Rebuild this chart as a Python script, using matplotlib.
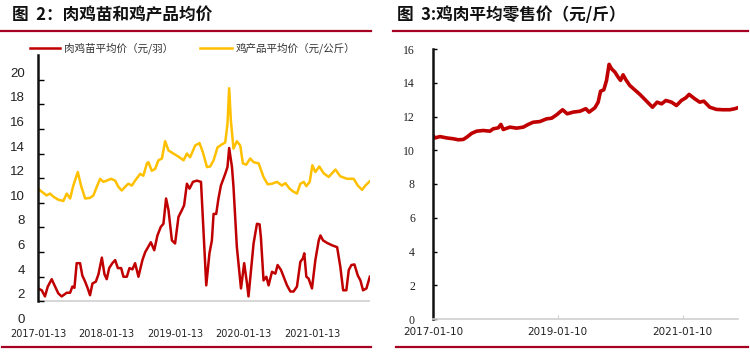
import numpy as np
import pandas as pd
import matplotlib
matplotlib.use("Agg")
import matplotlib.pyplot as plt
import matplotlib.transforms as mtransforms
from matplotlib.lines import Line2D

plt.rcParams['font.family'] = ['Noto Sans CJK SC', 'DejaVu Sans']

# 图2 肉鸡苗平均价（元/羽）
chick_dates = [
    "2017-01-13", "2017-02-02", "2017-02-19", "2017-03-06", "2017-03-27", "2017-04-14",
    "2017-05-01", "2017-05-19", "2017-06-15", "2017-07-03", "2017-07-15", "2017-07-26",
    "2017-08-07", "2017-08-25", "2017-09-06", "2017-09-21", "2017-10-05", "2017-10-17",
    "2017-10-30", "2017-11-17", "2017-12-01", "2017-12-19", "2018-01-02", "2018-01-14",
    "2018-01-27", "2018-02-13", "2018-02-28", "2018-03-14", "2018-04-01", "2018-04-13",
    "2018-05-01", "2018-05-15", "2018-05-31", "2018-06-14", "2018-07-02", "2018-07-23",
    "2018-08-07", "2018-09-06", "2018-09-24", "2018-10-11", "2018-10-29", "2018-11-12",
    "2018-11-26", "2018-12-09", "2018-12-27", "2019-01-13", "2019-01-31", "2019-02-18",
    "2019-03-02", "2019-03-17", "2019-03-31", "2019-04-18", "2019-05-09", "2019-05-31",
    "2019-06-13", "2019-06-28", "2019-07-15", "2019-07-28", "2019-08-06", "2019-08-20",
    "2019-09-01", "2019-09-14", "2019-10-07", "2019-10-19", "2019-10-28", "2019-11-12",
    "2019-11-20", "2019-12-08", "2019-12-30", "2020-01-16", "2020-01-31", "2020-02-08",
    "2020-03-06", "2020-03-24", "2020-04-07", "2020-04-14", "2020-04-28", "2020-05-13",
    "2020-05-25", "2020-06-12", "2020-06-30", "2020-07-12", "2020-07-30", "2020-08-13",
    "2020-08-31", "2020-09-18", "2020-10-05", "2020-10-23", "2020-11-10", "2020-11-24",
    "2020-12-01", "2020-12-12", "2020-12-24", "2021-01-11", "2021-01-29", "2021-02-16",
    "2021-02-25", "2021-03-11", "2021-04-01", "2021-04-28", "2021-05-25", "2021-06-11",
    "2021-06-26", "2021-07-13", "2021-07-26", "2021-08-09", "2021-08-25", "2021-09-12",
    "2021-09-26", "2021-10-10", "2021-10-28", "2021-11-15",
]
chick_price = [
    3.05, 2.9, 2.4, 3.2, 3.8, 3.2,
    2.65, 2.4, 2.7, 2.7, 3.2, 3.1,
    5.1, 5.1, 4.1, 3.6, 3.05, 2.5,
    3.45, 3.6, 4.2, 5.55, 4.2, 3.8,
    4.7, 5.1, 5.35, 4.7, 4.7, 4.0,
    4.0, 4.7, 4.6, 5.1, 4.0, 5.35,
    6.0, 6.8, 6.15, 7.35, 8.05, 8.3,
    10.35, 9.4, 6.95, 6.7, 8.85, 9.4,
    9.8, 11.55, 11.15, 11.7, 11.8, 11.7,
    7.8, 3.3, 5.9, 6.95, 9.1, 9.1,
    10.35, 11.4, 12.35, 12.9, 14.45, 12.9,
    11.3, 6.4, 3.05, 5.1, 3.45, 2.4,
    6.7, 8.3, 8.25, 7.2, 3.7, 4.0,
    3.3, 4.4, 4.25, 4.95, 4.55, 4.0,
    3.3, 2.8, 2.8, 3.2, 5.2, 5.5,
    5.9, 4.0, 3.85, 3.05, 5.35, 6.95,
    7.35, 6.95, 6.75, 6.55, 6.4, 4.8,
    2.9, 2.9, 4.55, 4.95, 5.0, 4.1,
    3.7, 2.9, 3.05, 4.0,
]

# 图2 鸡产品平均价（元/公斤）
product_dates = [
    "2017-01-13", "2017-02-02", "2017-02-28", "2017-03-18", "2017-04-05", "2017-05-01",
    "2017-05-28", "2017-06-15", "2017-07-03", "2017-07-20", "2017-08-13", "2017-08-30",
    "2017-09-21", "2017-10-17", "2017-11-04", "2017-11-22", "2017-12-10", "2017-12-27",
    "2018-01-14", "2018-02-06", "2018-02-28", "2018-03-17", "2018-04-04", "2018-04-22",
    "2018-05-09", "2018-05-28", "2018-06-14", "2018-07-11", "2018-07-28", "2018-08-16",
    "2018-08-24", "2018-09-11", "2018-09-29", "2018-10-16", "2018-11-04", "2018-11-21",
    "2018-12-09", "2019-01-04", "2019-01-31", "2019-02-27", "2019-03-17", "2019-04-03",
    "2019-04-30", "2019-05-23", "2019-06-10", "2019-07-02", "2019-07-19", "2019-08-06",
    "2019-08-27", "2019-09-20", "2019-10-07", "2019-10-19", "2019-10-28", "2019-11-06",
    "2019-11-20", "2019-12-08", "2019-12-26", "2020-01-09", "2020-01-27", "2020-02-17",
    "2020-03-06", "2020-04-02", "2020-04-28", "2020-05-20", "2020-06-12", "2020-07-09",
    "2020-08-04", "2020-08-22", "2020-09-14", "2020-10-05", "2020-10-23", "2020-11-10",
    "2020-11-28", "2020-12-12", "2020-12-30", "2021-01-13", "2021-01-29", "2021-02-19",
    "2021-03-14", "2021-04-10", "2021-05-16", "2021-06-11", "2021-07-17", "2021-08-21",
    "2021-09-12", "2021-10-05", "2021-10-22", "2021-11-15",
]
product_price = [
    11.15, 10.9, 10.6, 10.75, 10.5, 10.25,
    10.15, 10.75, 10.35, 11.4, 12.5, 11.4,
    10.35, 10.4, 10.6, 11.3, 11.95, 11.7,
    11.8, 11.95, 11.8, 11.3, 11.0, 11.3,
    11.55, 11.4, 11.8, 12.35, 12.2, 13.2,
    13.3, 12.6, 12.75, 13.45, 13.6, 15.0,
    14.25, 14.0, 13.75, 13.45, 14.0, 13.7,
    14.65, 14.85, 14.1, 12.9, 12.95, 13.45,
    14.5, 14.75, 14.9, 16.4, 19.3, 16.7,
    14.4, 15.0, 14.65, 13.2, 13.1, 13.6,
    13.3, 13.2, 12.1, 11.5, 11.55, 11.7,
    11.4, 11.6, 11.15, 10.9, 10.75, 11.55,
    11.7, 11.35, 11.7, 13.05, 12.5, 12.95,
    12.4, 12.1, 12.7, 12.15, 11.95, 11.95,
    11.4, 11.05, 11.4, 11.75,
]

# 图3 鸡肉平均零售价（元/斤）
retail_dates = [
    "2017-01-10", "2017-01-22", "2017-02-20", "2017-03-31", "2017-05-09", "2017-06-07",
    "2017-07-06", "2017-07-26", "2017-08-24", "2017-09-22", "2017-10-31", "2017-12-09",
    "2017-12-28", "2018-01-27", "2018-02-11", "2018-02-25", "2018-04-05", "2018-05-14",
    "2018-06-22", "2018-07-21", "2018-08-19", "2018-09-27", "2018-11-05", "2018-12-05",
    "2019-01-03", "2019-02-07", "2019-03-06", "2019-04-10", "2019-05-19", "2019-06-23",
    "2019-07-12", "2019-08-15", "2019-09-03", "2019-09-17", "2019-10-06", "2019-10-22",
    "2019-11-06", "2019-11-20", "2019-12-10", "2019-12-29", "2020-01-12", "2020-01-27",
    "2020-02-12", "2020-03-06", "2020-04-04", "2020-05-04", "2020-06-12", "2020-07-17",
    "2020-08-13", "2020-09-08", "2020-10-03", "2020-11-05", "2020-12-04", "2021-01-02",
    "2021-01-28", "2021-02-16", "2021-03-21", "2021-04-19", "2021-05-13", "2021-06-17",
    "2021-07-26", "2021-09-03", "2021-10-12", "2021-11-10", "2021-11-29",
]
retail_price = [
    10.87, 10.73, 10.81, 10.73, 10.68, 10.62,
    10.64, 10.77, 11.0, 11.13, 11.17, 11.13,
    11.27, 11.33, 11.53, 11.23, 11.37, 11.31,
    11.37, 11.53, 11.66, 11.7, 11.86, 11.9,
    12.1, 12.4, 12.16, 12.26, 12.31, 12.46,
    12.26, 12.52, 12.85, 13.5, 13.58, 14.14,
    15.09, 14.83, 14.63, 14.33, 14.14, 14.47,
    14.18, 13.84, 13.58, 13.31, 12.91, 12.55,
    12.85, 12.75, 12.95, 12.85, 12.65, 12.95,
    13.11, 13.31, 13.05, 12.85, 12.91, 12.55,
    12.42, 12.4, 12.4, 12.46, 12.52,
]

left_xticks = ["2017-01-13", "2018-01-13", "2019-01-13", "2020-01-13", "2021-01-13"]
left_yticks = list(range(0, 21, 2))
right_xticks = ["2017-01-10", "2019-01-10", "2021-01-10"]
right_yticks = list(range(0, 17, 2))
legend_labels = ["肉鸡苗平均价（元/羽）", "鸡产品平均价（元/公斤）"]

RED = "#C00000"
YELLOW = "#FFC000"
LINE_RED = "#A50021"

fig = plt.figure(figsize=(7.5, 3.55), dpi=100)

# 标题和分隔线
fig.text(12/750, 1 - 15/355, "图  2：肉鸡苗和鸡产品均价", fontsize=12, fontweight="bold",
         va="center", ha="left", color="#111111")
fig.text(397/750, 1 - 15/355, "图  3:鸡肉平均零售价（元/斤）", fontsize=12, fontweight="bold",
         va="center", ha="left", color="#111111")
for x0, x1, y in [(0, 371, 31), (2, 371, 347), (393, 748, 31), (396, 748, 347)]:
    fig.add_artist(Line2D([x0/750, x1/750], [1 - y/355, 1 - y/355],
                          color=LINE_RED, lw=1.6, transform=fig.transFigure))

# ---- 左图
ax = fig.add_axes([38/750, 29/355, 332/750, 271/355])
cd = pd.to_datetime(chick_dates)
pdd = pd.to_datetime(product_dates)
ax.plot(pdd, product_price, color=YELLOW, lw=1.8, solid_joinstyle="round")
ax.plot(cd, chick_price, color=RED, lw=1.8, solid_joinstyle="round")
ax.set_ylim(0, 22)
ax.set_xlim(pd.Timestamp("2017-01-13"), pd.Timestamp("2021-11-16"))
ax.axhline(2, color="#d0d0d0", lw=1.2, zorder=0)
for s in ["top", "right", "bottom"]:
    ax.spines[s].set_visible(False)
ax.spines["left"].set_linewidth(1.8)
ax.spines["left"].set_color("#111111")
ax.spines["left"].set_bounds(2, 22)
# 刻度线在2..20，数字标签整体略上移（与原图一致）
ax.set_yticks(left_yticks[1:])
ax.set_yticklabels([])
ax.tick_params(axis="y", direction="in", length=4, width=1)
lab_tr = ax.get_yaxis_transform() + mtransforms.ScaledTranslation(-0.13, 0.06, fig.dpi_scale_trans)
for v in left_yticks:
    ax.text(0, v, str(v), transform=lab_tr, ha="right", va="center", fontsize=9.5,
            color="#222222", family=["Liberation Sans"], clip_on=False, zorder=5)
ax.set_xticks(pd.to_datetime(left_xticks))
ax.set_xticklabels(left_xticks, fontsize=7, color="#222222", family=["DejaVu Sans"])
ax.tick_params(axis="x", length=0, pad=2)

# 图例
for (x0, x1, xt), color, label in zip([(30, 60, 64), (200, 232, 236)], [RED, YELLOW], legend_labels):
    fig.add_artist(Line2D([x0/750, x1/750], [1 - 48/355, 1 - 48/355], color=color, lw=1.8,
                          transform=fig.transFigure))
    fig.text(xt/750, 1 - 48/355, label, fontsize=7.6, color="#333333", va="center", ha="left")

# ---- 右图
ax2 = fig.add_axes([433/750, 36/355, 305/750, 270/355])
rd = pd.to_datetime(retail_dates)
ax2.plot(rd, retail_price, color=RED, lw=2.6, solid_joinstyle="round")
ax2.set_ylim(0, 16)
ax2.set_xlim(pd.Timestamp("2017-01-10"), pd.Timestamp("2021-11-29"))
for s in ["top", "right"]:
    ax2.spines[s].set_visible(False)
ax2.spines["left"].set_linewidth(1.8)
ax2.spines["left"].set_color("#111111")
ax2.spines["bottom"].set_color("#d0d0d0")
ax2.spines["bottom"].set_linewidth(1.2)
ax2.set_yticks(right_yticks)
ax2.set_yticklabels([str(v) for v in right_yticks], fontsize=8.5, color="#222222",
                    family=["Liberation Serif"])
ax2.tick_params(axis="y", direction="in", length=3, width=1, pad=13)
ax2.set_xticks(pd.to_datetime(right_xticks))
ax2.set_xticklabels(right_xticks, fontsize=7.5, color="#222222", family=["DejaVu Sans"])
ax2.tick_params(axis="x", direction="in", length=3, color="#d0d0d0", pad=6)

fig.savefig("out.png", dpi=100, facecolor="white")
